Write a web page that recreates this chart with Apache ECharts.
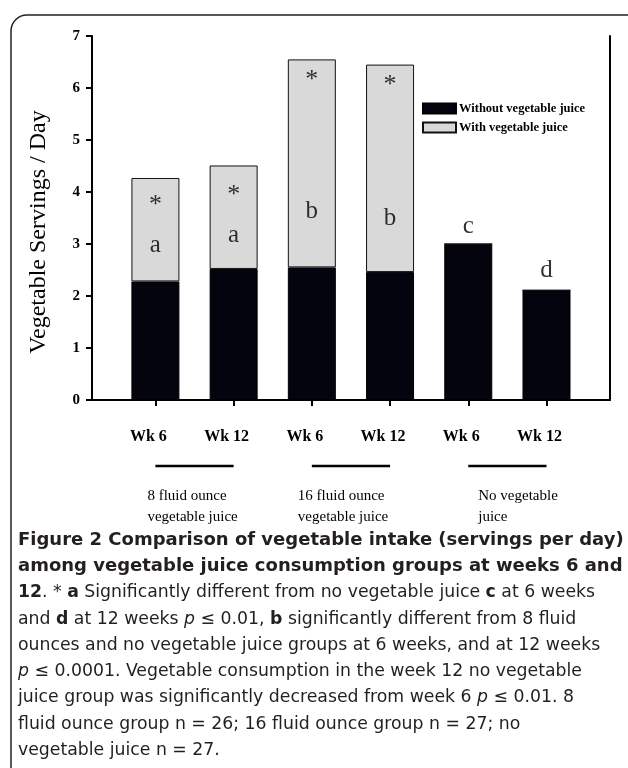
<!DOCTYPE html>
<html>
<head>
<meta charset="utf-8">
<script src="https://cdn.jsdelivr.net/npm/echarts@6/dist/echarts.min.js"></script>
<style>
  html, body { margin: 0; background: #fff; }
  #chart { width: 628px; height: 768px; }
</style>
</head>
<body>
<div id="chart"></div>
<script>
// data
const weekLabels = ["Wk 6", "Wk 12", "Wk 6", "Wk 12", "Wk 6", "Wk 12"];
const withoutJuice = [2.28, 2.52, 2.55, 2.46, 3.0, 2.11];
const withJuice = [1.99, 1.99, 4.0, 3.99, 0, 0];
const sigLetters = ["a", "a", "b", "b", "c", "d"];
const letterLevels = [2.98, 3.17, 3.62, 3.5, 3.33, 2.5];
const starLevels = [3.85, 4.04, 6.25, 6.15, null, null];
const groupNames = ["8 fluid ounce\nvegetable juice", "16 fluid ounce\nvegetable juice", "No vegetable\njuice"];
const groupSpans = [[0, 1], [2, 3], [4, 5]];

const captionLines = [
  "{h|Figure 2 Comparison of vegetable intake (servings per day)}",
  "{h|among vegetable juice consumption groups at weeks 6 and}",
  "{b|12}. * {b|a} Significantly different from no vegetable juice {b|c} at 6 weeks",
  "and {b|d} at 12 weeks {i|p} ≤ 0.01, {b|b} significantly different from 8 fluid",
  "ounces and no vegetable juice groups at 6 weeks, and at 12 weeks",
  "{i|p} ≤ 0.0001. Vegetable consumption in the week 12 no vegetable",
  "juice group was significantly decreased from week 6 {i|p} ≤ 0.01. 8",
  "fluid ounce group n = 26; 16 fluid ounce group n = 27; no",
  "vegetable juice n = 27."
];

const serif = "Liberation Serif";
const sans = "DejaVu Sans";

const chart = echarts.init(document.getElementById("chart"));

const capBase = { fontFamily: sans, fontSize: 17.3, lineHeight: 26.3, color: "#231f20" };

chart.setOption({
  backgroundColor: "#fff",
  animation: false,
  title: {
    left: 18,
    top: 527,
    padding: 0,
    text: captionLines.join("\n"),
    textStyle: Object.assign({}, capBase, {
      fontWeight: "normal",
      rich: {
        h: Object.assign({}, capBase, { fontWeight: "bold", fontSize: 18 }),
        b: Object.assign({}, capBase, { fontWeight: "bold" }),
        i: Object.assign({}, capBase, { fontStyle: "italic" })
      }
    })
  },
  legend: {
    orient: "vertical",
    left: 422,
    top: 102,
    padding: 0,
    icon: "rect",
    itemWidth: 33,
    itemHeight: 10,
    itemGap: 6,
    data: ["Without vegetable juice", "With vegetable juice"],
    textStyle: { fontFamily: serif, fontSize: 12.5, fontWeight: "bold", color: "#000", padding: [0, 0, 0, -2] }
  },
  grid: [
    // frame: left axis, bottom line, right line
    { left: 92, right: 18, top: 36, bottom: 368 },
    // bars
    { left: 116.3, right: 42.4, top: 36, bottom: 368 }
  ],
  xAxis: [
    {
      type: "value",
      gridIndex: 0,
      min: 0,
      max: 1,
      splitLine: { show: false },
      axisLine: { show: true, onZero: false, lineStyle: { color: "#000", width: 2 } },
      axisTick: { show: false },
      axisLabel: { show: false }
    },
    {
      type: "category",
      gridIndex: 1,
      data: weekLabels,
      axisLine: { show: false },
      axisTick: { show: true, alignWithLabel: true, length: 6, lineStyle: { color: "#000", width: 2 } },
      axisLabel: {
        margin: 29,
        padding: [0, 14, 0, 0],
        fontFamily: serif,
        fontSize: 16,
        fontWeight: "bold",
        color: "#000"
      }
    }
  ],
  yAxis: [
    {
      type: "value",
      gridIndex: 0,
      min: 0,
      max: 7,
      interval: 1,
      name: "Vegetable Servings / Day",
      nameLocation: "middle",
      nameGap: 41,
      nameTextStyle: { fontFamily: serif, fontSize: 24, color: "#000", padding: [0, 28, 0, 0] },
      splitLine: { show: false },
      axisLine: { show: true, onZero: false, lineStyle: { color: "#000", width: 2 } },
      axisTick: { show: true, length: 6, lineStyle: { color: "#000", width: 2 } },
      axisLabel: { margin: 12, fontFamily: serif, fontSize: 15, fontWeight: "bold", color: "#000" }
    },
    {
      type: "value",
      gridIndex: 0,
      min: 0,
      max: 7,
      position: "right",
      splitLine: { show: false },
      axisLine: { show: true, onZero: false, lineStyle: { color: "#000", width: 2 } },
      axisTick: { show: false },
      axisLabel: { show: false }
    },
    {
      type: "value",
      gridIndex: 1,
      min: 0,
      max: 7,
      show: false
    }
  ],
  series: [
    {
      name: "Without vegetable juice",
      type: "bar",
      xAxisIndex: 1,
      yAxisIndex: 2,
      stack: "total",
      barWidth: 48,
      data: withoutJuice,
      itemStyle: { color: "#03040e", borderColor: "#000", borderWidth: 1 }
    },
    {
      name: "With vegetable juice",
      type: "bar",
      xAxisIndex: 1,
      yAxisIndex: 2,
      stack: "total",
      barWidth: 48,
      data: withJuice,
      itemStyle: { color: "#d9d9d9", borderColor: "#111", borderWidth: 1 }
    },
    {
      type: "scatter",
      xAxisIndex: 1,
      yAxisIndex: 2,
      symbolSize: 0,
      silent: true,
      data: letterLevels,
      label: {
        show: true,
        position: "inside",
        formatter: (p) => sigLetters[p.dataIndex],
        fontFamily: serif,
        fontSize: 25,
        color: "#000"
      }
    },
    {
      type: "scatter",
      xAxisIndex: 1,
      yAxisIndex: 2,
      symbolSize: 0,
      silent: true,
      data: starLevels,
      label: {
        show: true,
        position: "inside",
        formatter: "*",
        offset: [0, 5],
        fontFamily: serif,
        fontSize: 26,
        color: "#000"
      }
    }
  ]
});

// group underlines and labels under the week labels
const graphics = [
  {
    type: "rect",
    silent: true,
    z: -1,
    shape: { x: 11, y: 15, width: 700, height: 800, r: 16 },
    style: { fill: "none", stroke: "#222", lineWidth: 1.5 }
  }
];
const textShift = [-8, -14, 10];
groupSpans.forEach((span, g) => {
  const x0 = chart.convertToPixel({ xAxisIndex: 1 }, span[0]);
  const x1 = chart.convertToPixel({ xAxisIndex: 1 }, span[1]);
  graphics.push({
    type: "line",
    silent: true,
    shape: { x1: x0, y1: 466, x2: x1, y2: 466 },
    style: { stroke: "#000", lineWidth: 2.5 }
  });
  graphics.push({
    type: "text",
    silent: true,
    x: x0 + textShift[g],
    y: 486,
    style: { text: groupNames[g], fontFamily: serif, fontSize: 15, lineHeight: 21, fill: "#000", align: "left" }
  });
});
chart.setOption({ graphic: graphics });
</script>
</body>
</html>
